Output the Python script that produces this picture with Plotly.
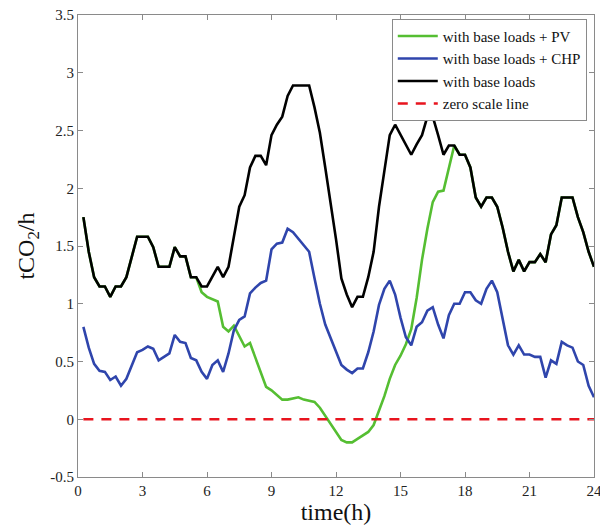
import plotly.graph_objects as go

# Hourly time axis at 15-minute resolution (0.25 h .. 24 h)
hours = [0.25 * (i + 1) for i in range(96)]

# Emissions with base loads only (tCO2/h)
base_loads = [
    1.75, 1.45, 1.23, 1.15, 1.15, 1.06, 1.15, 1.15,
    1.23, 1.40, 1.58, 1.58, 1.58, 1.49, 1.32, 1.32,
    1.32, 1.49, 1.41, 1.41, 1.23, 1.23, 1.15, 1.15,
    1.23, 1.32, 1.23, 1.32, 1.58, 1.84, 1.94, 2.18,
    2.28, 2.28, 2.20, 2.46, 2.55, 2.62, 2.80, 2.89,
    2.89, 2.89, 2.89, 2.70, 2.48, 2.18, 1.88, 1.56,
    1.22, 1.08, 0.97, 1.06, 1.06, 1.23, 1.45, 1.84,
    2.15, 2.46, 2.55, 2.46, 2.38, 2.29, 2.38, 2.46,
    2.62, 2.62, 2.46, 2.29, 2.37, 2.37, 2.29, 2.29,
    2.18, 1.92, 1.84, 1.92, 1.92, 1.84, 1.66, 1.45,
    1.28, 1.38, 1.28, 1.36, 1.36, 1.43, 1.36, 1.60,
    1.68, 1.92, 1.92, 1.92, 1.75, 1.62, 1.45, 1.32,
]

# Emissions with base loads + CHP
base_chp = [
    0.80, 0.62, 0.48, 0.42, 0.41, 0.34, 0.37, 0.29,
    0.35, 0.47, 0.58, 0.60, 0.63, 0.61, 0.51, 0.54,
    0.57, 0.73, 0.67, 0.66, 0.53, 0.51, 0.41, 0.35,
    0.47, 0.51, 0.41, 0.57, 0.77, 0.86, 0.89, 1.09,
    1.14, 1.18, 1.20, 1.47, 1.52, 1.53, 1.65, 1.62,
    1.56, 1.50, 1.45, 1.22, 1.00, 0.82, 0.70, 0.58,
    0.47, 0.43, 0.40, 0.44, 0.44, 0.58, 0.76, 0.99,
    1.13, 1.20, 1.08, 0.88, 0.71, 0.64, 0.80, 0.84,
    0.94, 0.97, 0.82, 0.70, 0.90, 1.00, 1.00, 1.10,
    1.10, 1.03, 1.00, 1.13, 1.20, 1.10, 0.86, 0.64,
    0.56, 0.64, 0.56, 0.56, 0.54, 0.54, 0.36, 0.51,
    0.48, 0.67, 0.64, 0.62, 0.50, 0.47, 0.29, 0.19,
]

# Emissions with base loads + PV
base_pv = [
    1.75, 1.45, 1.23, 1.15, 1.15, 1.06, 1.15, 1.15,
    1.23, 1.40, 1.58, 1.58, 1.58, 1.49, 1.32, 1.32,
    1.32, 1.49, 1.41, 1.41, 1.23, 1.23, 1.10, 1.06,
    1.04, 1.02, 0.80, 0.76, 0.81, 0.72, 0.63, 0.66,
    0.53, 0.40, 0.28, 0.25, 0.21, 0.17, 0.17, 0.18,
    0.19, 0.17, 0.16, 0.15, 0.10, 0.03, -0.04, -0.11,
    -0.18, -0.20, -0.20, -0.17, -0.14, -0.11, -0.05, 0.07,
    0.20, 0.35, 0.47, 0.55, 0.65, 0.78, 1.05, 1.38,
    1.65, 1.88, 1.97, 1.98, 2.18, 2.37, 2.29, 2.29,
    2.18, 1.92, 1.84, 1.92, 1.92, 1.84, 1.66, 1.45,
    1.28, 1.38, 1.28, 1.36, 1.36, 1.43, 1.36, 1.60,
    1.68, 1.92, 1.92, 1.92, 1.75, 1.62, 1.45, 1.32,
]

zero_line = [0.0] * len(hours)

x_ticks = [0, 3, 6, 9, 12, 15, 18, 21, 24]
y_ticks = [-0.5, 0, 0.5, 1, 1.5, 2, 2.5, 3, 3.5]
y_tick_text = ["-0.5", "0", "0.5", "1", "1.5", "2", "2.5", "3", "3.5"]

FONT = "Liberation Serif, Times New Roman, serif"

fig = go.Figure()
fig.add_trace(go.Scatter(x=hours, y=base_pv, mode="lines",
                         name="with base loads + PV",
                         line=dict(color="#55BE32", width=2.6)))
fig.add_trace(go.Scatter(x=hours, y=base_chp, mode="lines",
                         name="with base loads + CHP",
                         line=dict(color="#2F45AC", width=2.6)))
fig.add_trace(go.Scatter(x=hours, y=base_loads, mode="lines",
                         name="with base loads",
                         line=dict(color="#000000", width=2.6)))
fig.add_trace(go.Scatter(x=hours, y=zero_line, mode="lines",
                         name="zero scale line",
                         line=dict(color="#E8141E", width=2.6, dash="10px,8px")))

axis_common = dict(
    showline=True, linecolor="#8a8a8a", linewidth=1, mirror="ticks",
    ticks="inside", ticklen=5, tickcolor="#8a8a8a",
    showgrid=False, zeroline=False, automargin=False,
    tickfont=dict(family=FONT, size=15, color="#222222"),
)

fig.update_xaxes(range=[0, 24], tickvals=x_ticks, ticklabeloverflow="allow",
                 title=dict(text="time(h)", font=dict(family=FONT, size=24, color="#111111"),
                            standoff=2),
                 **axis_common)
fig.update_yaxes(range=[-0.5, 3.5], tickvals=y_ticks, ticktext=y_tick_text,
                 title=dict(text="tCO<sub>2</sub>/h", font=dict(family=FONT, size=24, color="#111111"),
                            standoff=8),
                 **axis_common)

fig.update_layout(
    width=600, height=527,
    margin=dict(l=78, r=6, t=15, b=50, autoexpand=False),
    paper_bgcolor="white", plot_bgcolor="white",
    showlegend=True,
    legend=dict(
        x=0.986, y=0.992, xanchor="right", yanchor="top",
        bgcolor="white", bordercolor="#8a8a8a", borderwidth=1,
        font=dict(family=FONT, size=15, color="#111111"),
        tracegroupgap=0, itemwidth=40,
    ),
)

fig.write_html("out.html")
